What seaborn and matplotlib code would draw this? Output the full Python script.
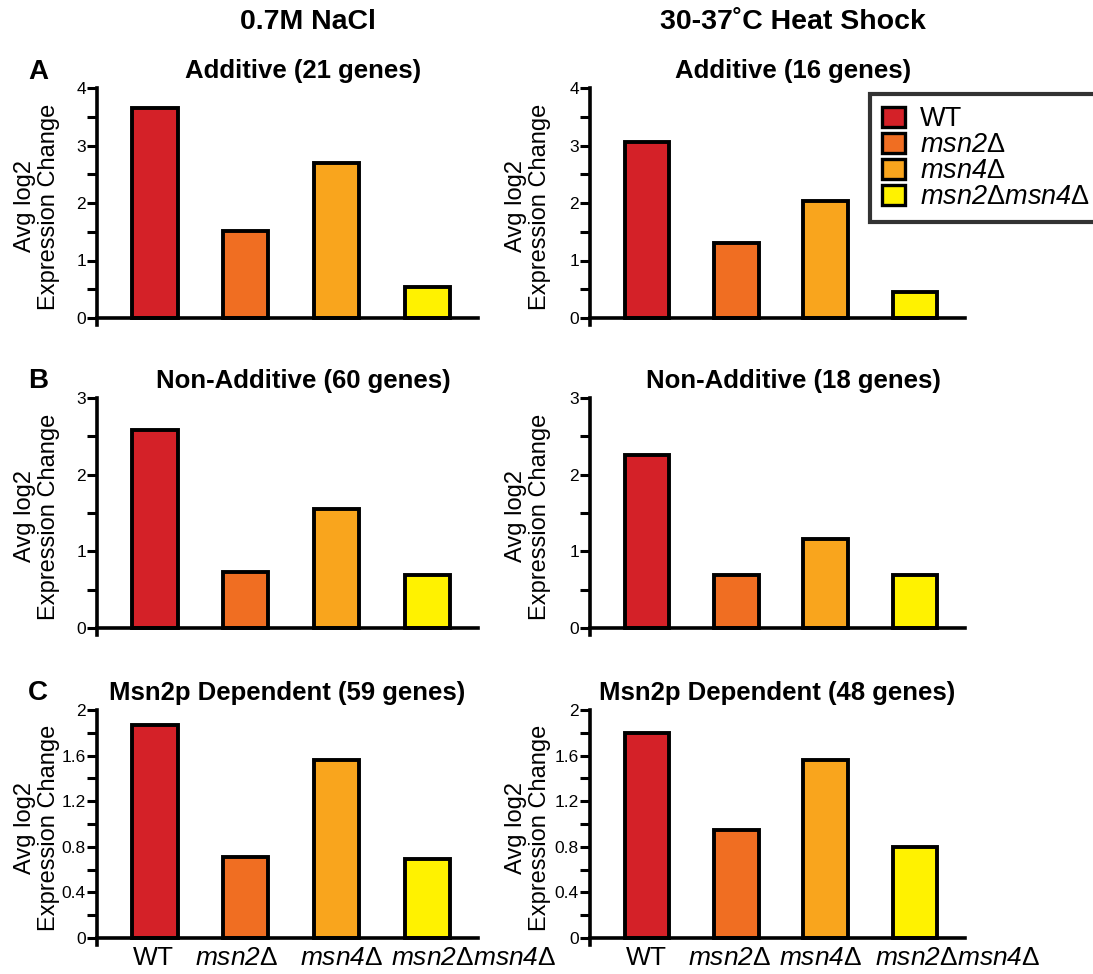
import matplotlib
matplotlib.use("Agg")
import matplotlib.pyplot as plt
import matplotlib.transforms as mtransforms
import seaborn as sns
import pandas as pd
from matplotlib.patches import Patch
from matplotlib.ticker import MultipleLocator

sns.set_theme(style="white")
plt.rcParams['font.family'] = ['Liberation Sans', 'DejaVu Sans']
plt.rcParams['text.color'] = 'black'
plt.rcParams['axes.labelcolor'] = 'black'
plt.rcParams['xtick.color'] = 'black'
plt.rcParams['ytick.color'] = 'black'
plt.rcParams['mathtext.fontset'] = 'custom'
plt.rcParams['mathtext.it'] = 'Liberation Sans:italic'
plt.rcParams['mathtext.rm'] = 'Liberation Sans:italic'

strains = ["WT", "msn2Δ", "msn4Δ", "msn2Δmsn4Δ"]
strain_labels = ["WT", r"$msn2$Δ", r"$msn4$Δ", r"$msn2$Δ$msn4$Δ"]
colors = ["#D42128", "#F06E22", "#F9A51D", "#FFF200"]

nacl_additive = [3.65, 1.51, 2.70, 0.54]
heat_additive = [3.06, 1.30, 2.04, 0.45]
nacl_nonadd = [2.58, 0.73, 1.55, 0.69]
heat_nonadd = [2.26, 0.69, 1.16, 0.69]
nacl_msn2 = [1.87, 0.71, 1.56, 0.69]
heat_msn2 = [1.80, 0.95, 1.56, 0.80]

titles = [["Additive (21 genes)", "Additive (16 genes)"],
          ["Non-Additive (60 genes)", "Non-Additive (18 genes)"],
          ["Msn2p Dependent (59 genes)", "Msn2p Dependent (48 genes)"]]
data = [[nacl_additive, heat_additive],
        [nacl_nonadd, heat_nonadd],
        [nacl_msn2, heat_msn2]]
ymax = [4, 3, 2]
major = [1, 1, 0.4]
minor = [0.5, 0.5, 0.2]
col_headers = ["0.7M NaCl", "30-37˚C Heat Shock"]
panel_letters = ["A", "B", "C"]

W, H = 1093, 974
fig = plt.figure(figsize=(W / 100, H / 100), dpi=100)

row_px = [(88, 318), (398, 628), (710, 938)]  # top (ymax), zero line
col_px = [(97, 478), (590, 965)]
label_right_px = [60, 551]
title_shift_px = [16, 16, 0]
xlab_shift_px = [[-2, -9, 5, 46], [-1, -7, -5, 43]]
ext_px = 7

for r in range(3):
    top, zero = row_px[r]
    ppu = (zero - top) / ymax[r]
    ylo = -ext_px / ppu
    bottom_px = zero + ext_px
    for c in range(2):
        x0, x1 = col_px[c]
        ax = fig.add_axes([x0 / W, 1 - bottom_px / H, (x1 - x0) / W, (bottom_px - top) / H])
        df = pd.DataFrame({"strain": strains, "value": data[r][c]})
        sns.barplot(data=df, x="strain", y="value", hue="strain", palette=colors,
                    legend=False, width=0.5, edgecolor="black", linewidth=2.8, ax=ax,
                    saturation=1)
        ax.set_xlim(-0.64, 3.56)
        for s in ["top", "right"]:
            ax.spines[s].set_visible(False)
        ax.spines["left"].set_linewidth(2.6)
        ax.spines["left"].set_color("black")
        ax.spines["bottom"].set_position(("data", 0))
        ax.spines["bottom"].set_linewidth(2.6)
        ax.spines["bottom"].set_color("black")
        ax.yaxis.set_major_locator(MultipleLocator(major[r]))
        ax.yaxis.set_minor_locator(MultipleLocator(minor[r]))
        ax.tick_params(axis="y", which="major", length=7, width=2.2, direction="out",
                       labelsize=12.5, pad=1, left=True, color="black")
        ax.tick_params(axis="y", which="minor", length=7, width=2.2, direction="out",
                       left=True, color="black")
        ax.set_ylim(ylo, ymax[r])
        ticks = [v for v in ax.get_yticks() if -1e-9 <= v <= ymax[r] + 1e-9]
        ax.set_yticks(ticks)
        ax.set_yticklabels(["{:g}".format(round(v, 2)) for v in ticks])
        ax.set_ylim(ylo, ymax[r])
        ax.set_ylabel("Avg log2\nExpression Change", fontsize=17, linespacing=1.1)
        ax.yaxis.set_label_coords((label_right_px[c] - x0) / (x1 - x0), 0.5)
        ax.set_xlabel("")
        ax.set_title(titles[r][c], fontsize=18.5, fontweight="bold", pad=7,
                     x=0.5 + title_shift_px[r] / (x1 - x0))
        ax.tick_params(axis="x", length=0, pad=6)
        if r == 2:
            ax.set_xticks(range(4))
            ax.set_xticklabels(strain_labels, fontsize=19)
            labs = ax.get_xticklabels()
            for lab, sh in zip(labs, xlab_shift_px[c]):
                lab.set_transform(lab.get_transform() +
                                  mtransforms.ScaledTranslation(sh / 100, 0, fig.dpi_scale_trans))
        else:
            ax.set_xticklabels([])
        ax.patch.set_visible(False)

# Column headers
fig.text(308 / W, 1 - 22 / H, col_headers[0], fontsize=20.5, fontweight="bold",
         ha="center", va="center")
fig.text(793 / W, 1 - 22 / H, col_headers[1], fontsize=20.5, fontweight="bold",
         ha="center", va="center")

# Panel letters
for letter, ypx in zip(panel_letters, [72, 381, 693]):
    fig.text(38 / W, 1 - ypx / H, letter, fontsize=20, fontweight="bold",
             ha="center", va="center")

# Legend
handles = [Patch(facecolor=col, edgecolor="black", linewidth=2.4) for col in colors]
leg = fig.legend(handles, strain_labels, loc="upper left",
                 bbox_to_anchor=(870 / W, 1 - 94 / H), fontsize=19.5, frameon=True,
                 fancybox=False, handlelength=0.85, handleheight=0.75,
                 handletextpad=0.55, labelspacing=0.0, borderpad=0.45,
                 borderaxespad=0)
leg.get_frame().set_edgecolor("black")
leg.get_frame().set_linewidth(3)

fig.savefig("out.png", dpi=100, facecolor="white")
